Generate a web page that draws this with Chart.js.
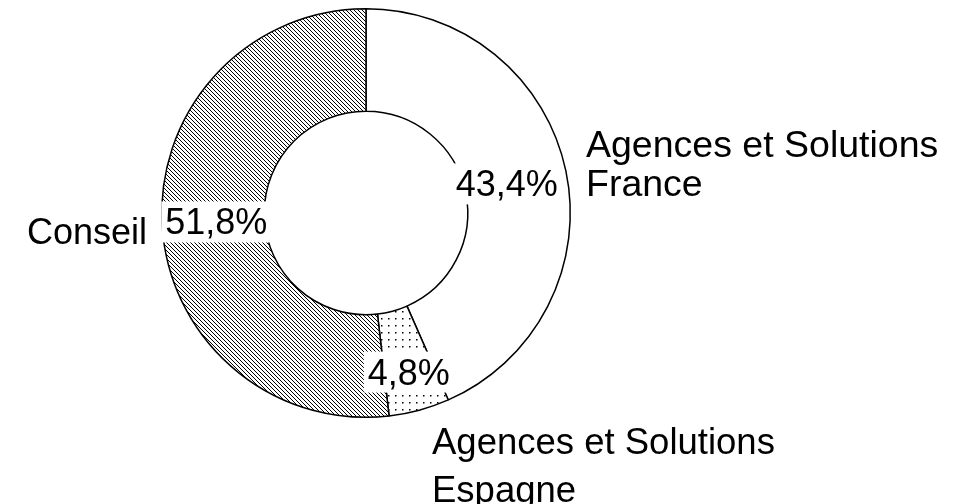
<!DOCTYPE html>
<html>
<head>
<meta charset="utf-8">
<script src="https://cdn.jsdelivr.net/npm/chart.js@4"></script>
<style>
  html, body { margin: 0; padding: 0; background: #fff; }
  #wrap { position: relative; width: 961px; height: 504px; }
</style>
</head>
<body>
<div id="wrap"><canvas id="segChart" width="961" height="504"></canvas></div>
<script>
// Data
const segments = ['Agences et Solutions France', 'Agences et Solutions Espagne', 'Conseil'];
const shares = [43.4, 4.8, 51.8];
const valueLabels = ['43,4%', '4,8%', '51,8%'];

const FONT = '36px "Liberation Sans", Arial, sans-serif';

// Fill patterns
function makeHatch() {
    const c = document.createElement('canvas');
    c.width = 4; c.height = 4;
    const g = c.getContext('2d');
    g.fillStyle = '#fff';
    g.fillRect(0, 0, 4, 4);
    g.strokeStyle = '#000';
    g.lineWidth = 1;
    g.beginPath();
    g.moveTo(-1, -1); g.lineTo(5, 5);
    g.moveTo(-1, 3); g.lineTo(1, 5);
    g.moveTo(3, -1); g.lineTo(5, 1);
    g.stroke();
    return g.createPattern(c, 'repeat');
}

function makeDots() {
    const c = document.createElement('canvas');
    c.width = 7; c.height = 7;
    const g = c.getContext('2d');
    g.fillStyle = '#fff';
    g.fillRect(0, 0, 7, 7);
    g.fillStyle = '#000';
    g.fillRect(3, 3, 1.5, 1.5);
    return g.createPattern(c, 'repeat');
}

// Labels drawn on top of the ring
const labelPlugin = {
    id: 'segLabels',
    afterDatasetsDraw(chart) {
        const ctx = chart.ctx;
        const meta = chart.getDatasetMeta(0);
        const radial = [0.41, 0.61, 0.47];
        ctx.save();
        ctx.font = FONT;
        ctx.textBaseline = 'alphabetic';
        ctx.textAlign = 'center';
        meta.data.forEach((arc, i) => {
            const p = arc.getProps(['x', 'y', 'startAngle', 'endAngle', 'innerRadius', 'outerRadius'], true);
            const mid = (p.startAngle + p.endAngle) / 2;
            const r = p.innerRadius + radial[i] * (p.outerRadius - p.innerRadius);
            const cx = p.x + Math.cos(mid) * r;
            const base = p.y + Math.sin(mid) * r + 13;
            const w = ctx.measureText(valueLabels[i]).width;
            ctx.fillStyle = '#fff';
            ctx.fillRect(cx - w / 2 - 4, base - 33, w + 8, 41);
            ctx.fillStyle = '#000';
            ctx.fillText(valueLabels[i], cx, base);
        });

        // category names outside the ring
        ctx.textAlign = 'left';
        ctx.font = '37.5px "Liberation Sans", Arial, sans-serif';
        ctx.fillText('Agences et Solutions', 586, 157);
        ctx.fillText('France', 586, 196);
        ctx.font = '36.5px "Liberation Sans", Arial, sans-serif';
        ctx.fillText('Agences et Solutions', 432, 454);
        ctx.fillText('Espagne', 432, 502);
        ctx.font = FONT;
        ctx.textAlign = 'right';
        ctx.fillText('Conseil', 147, 244);
        ctx.restore();
    }
};

new Chart(document.getElementById('segChart'), {
    type: 'doughnut',
    data: {
        labels: segments,
        datasets: [{
            data: shares,
            backgroundColor: ['#ffffff', makeDots(), makeHatch()],
            borderColor: '#000',
            borderWidth: 1.5
        }]
    },
    options: {
        responsive: false,
        animation: false,
        devicePixelRatio: 1,
        cutout: '49.8%',
        layout: { padding: { left: 161, top: 8, right: 390, bottom: 86 } },
        plugins: {
            legend: { display: false },
            tooltip: { enabled: false }
        },
        events: []
    },
    plugins: [labelPlugin]
});
</script>
</body>
</html>
